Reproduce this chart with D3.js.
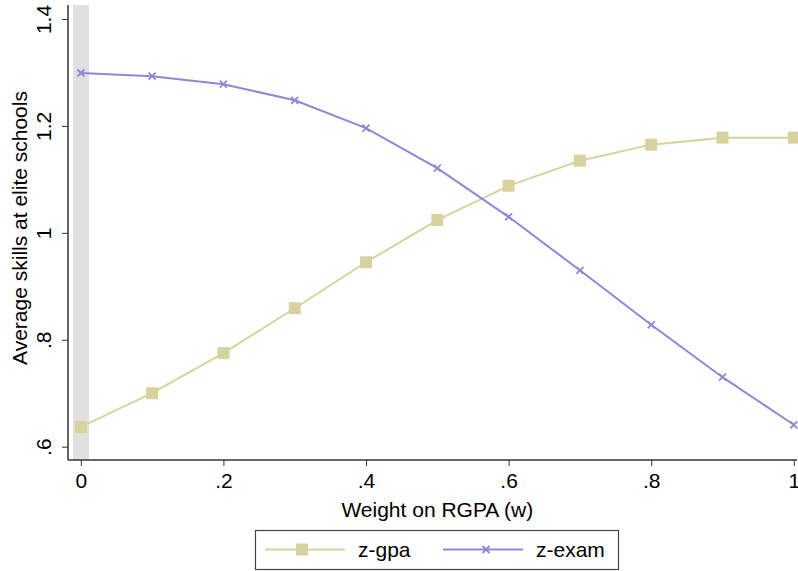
<!DOCTYPE html>
<html>
<head>
<meta charset="utf-8">
<script src="https://cdn.jsdelivr.net/npm/d3@7"></script>
<style>
	body { margin: 0; background: #fff; }
	text { font-family: "Liberation Sans", Arial, Helvetica, sans-serif; fill: #000; }
</style>
</head>
<body>
<script>
// weights on RGPA
const weights = [0, 0.1, 0.2, 0.3, 0.4, 0.5, 0.6, 0.7, 0.8, 0.9, 1];
// average skills at elite schools
const zGpa = [0.637, 0.700, 0.775, 0.859, 0.945, 1.024, 1.088, 1.135, 1.165, 1.178, 1.178];
const zExam = [1.299, 1.293, 1.278, 1.248, 1.196, 1.121, 1.030, 0.930, 0.828, 0.730, 0.641];
const xTicks = [0, 0.2, 0.4, 0.6, 0.8, 1];
const yTicks = [0.6, 0.8, 1, 1.2, 1.4];
const seriesNames = ["z-gpa", "z-exam"];

const W = 798, H = 571;
const gpaColor = "#d8d29e", examColor = "#8f87d8";
const fs = 21;

let svg = d3.select("body").append("svg")
	.attr("width", W)
	.attr("height", H);

let x = d3.scaleLinear().domain([-0.018, 1.0045]).range([68, 797]);
let y = d3.scaleLinear().domain([0.5751, 1.4262]).range([460, 5]);

// stata style labels: .2 instead of 0.2
let fmt = d => d3.format("~g")(d).replace(/^0\./, ".");

//shaded band at w = 0
svg.append("rect")
	.attr("x", x(-0.011))
	.attr("y", y(1.4262))
	.attr("width", x(0.0115) - x(-0.011))
	.attr("height", y(0.5751) - y(1.4262))
	.attr("fill", "#e0e0e0");

//x axis
let xAxis = svg.append("g")
	.attr("transform", "translate(0,460)")
	.call(d3.axisBottom(x).tickValues(xTicks).tickFormat(fmt).tickSize(6).tickPadding(6));
xAxis.select(".domain").attr("stroke", "#333").attr("stroke-width", 1.5).attr("d", "M68,0H797");
xAxis.selectAll(".tick line").attr("stroke", "#333");
xAxis.selectAll(".tick text").attr("font-size", fs).attr("dy", "0.75em");

//y axis
let yAxis = svg.append("g")
	.attr("transform", "translate(68,0)")
	.call(d3.axisLeft(y).tickValues(yTicks).tickFormat(fmt).tickSize(6).tickPadding(0));
yAxis.select(".domain").attr("stroke", "#333").attr("stroke-width", 1.5).attr("d", "M0,5V460");
yAxis.selectAll(".tick line").attr("stroke", "#333");
yAxis.selectAll(".tick text").remove();
yAxis.selectAll(".tick").append("text")
	.attr("transform", "translate(-17,0) rotate(-90)")
	.attr("text-anchor", "middle")
	.attr("font-size", fs)
	.text(d => fmt(d));

//axis titles
svg.append("text")
	.attr("x", x(0.5))
	.attr("y", 517)
	.attr("text-anchor", "middle")
	.attr("font-size", fs)
	.text("Weight on RGPA (w)");

svg.append("text")
	.attr("transform", "translate(27,228) rotate(-90)")
	.attr("text-anchor", "middle")
	.attr("font-size", fs)
	.text("Average skills at elite schools");

//lines
let line = d3.line().x((d, i) => x(weights[i])).y(d => y(d));

svg.append("path").datum(zGpa)
	.attr("d", line).attr("fill", "none")
	.attr("stroke", gpaColor).attr("stroke-width", 2);
svg.append("path").datum(zExam)
	.attr("d", line).attr("fill", "none")
	.attr("stroke", examColor).attr("stroke-width", 2);

//markers
let sq = 12;
svg.selectAll("rect.gpa")
	.data(zGpa)
	.enter().append("rect")
	.classed("gpa", true)
	.attr("x", (d, i) => x(weights[i]) - sq / 2)
	.attr("y", d => y(d) - sq / 2)
	.attr("width", sq).attr("height", sq)
	.attr("fill", gpaColor);

let cross = "M-3.5,-3.5L3.5,3.5M-3.5,3.5L3.5,-3.5";
svg.selectAll("path.exam")
	.data(zExam)
	.enter().append("path")
	.classed("exam", true)
	.attr("transform", (d, i) => `translate(${x(weights[i])},${y(d)})`)
	.attr("d", cross)
	.attr("stroke", examColor).attr("stroke-width", 1.8).attr("fill", "none");

//legend
let leg = svg.append("g");
leg.append("rect")
	.attr("x", 255.5).attr("y", 530.5)
	.attr("width", 363).attr("height", 39)
	.attr("fill", "#fff").attr("stroke", "#444").attr("stroke-width", 1.2);

let items = [
	{ name: seriesNames[0], color: gpaColor, x0: 265, type: "sq" },
	{ name: seriesNames[1], color: examColor, x0: 443, type: "x" }
];
items.forEach(it => {
	leg.append("line")
		.attr("x1", it.x0).attr("x2", it.x0 + 80)
		.attr("y1", 549.5).attr("y2", 549.5)
		.attr("stroke", it.color).attr("stroke-width", 2);
	if (it.type == "sq") {
		leg.append("rect")
			.attr("x", it.x0 + 37 - sq / 2).attr("y", 549.5 - sq / 2)
			.attr("width", sq).attr("height", sq)
			.attr("fill", it.color);
	} else {
		leg.append("path")
			.attr("transform", `translate(${it.x0 + 43},549.5)`)
			.attr("d", cross)
			.attr("stroke", it.color).attr("stroke-width", 1.8);
	}
	leg.append("text")
		.attr("x", it.x0 + 93).attr("y", 557)
		.attr("font-size", fs)
		.text(it.name);
});
</script>
</body>
</html>
